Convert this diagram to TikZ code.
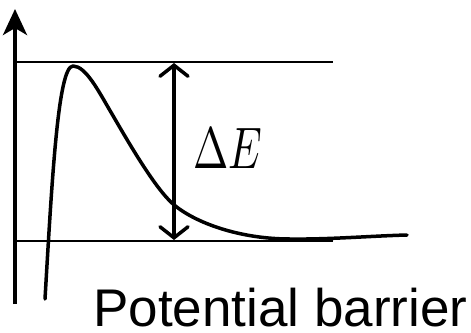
\documentclass[tikz,border=0pt]{standalone}
\usepackage{fontspec}
\newfontfamily\arialfont{Liberation Sans}
\usetikzlibrary{arrows.meta}
\begin{document}
\begin{tikzpicture}[x=1pt,y=-1pt,
  level/.style={line width=2pt},
  axisline/.style={line width=4pt,-{Stealth[length=26pt,width=24pt,inset=7pt]}},
  gap/.style={line width=3.5pt,{Straight Barb[length=11pt,width=28pt,line cap=round]}-{Straight Barb[length=11pt,width=28pt,line cap=round]}},
  curve/.style={line width=3.5pt,line cap=round,line join=round}]
\useasboundingbox (0,0) rectangle (471,332);
\coordinate (axb) at (15,304);
\coordinate (axt) at (15,9);
\coordinate (tl) at (15,62);
\coordinate (tr) at (333,62);
\coordinate (bl) at (15,241);
\coordinate (br) at (333,241);
\coordinate (gt) at (174,63);
\coordinate (gb) at (174,240);
\draw[level] (tl) -- (tr);
\draw[level] (bl) -- (br);
\draw[axisline] (axb) -- (axt);
\draw[curve] (45,299) .. controls (52,180) and (58,66) .. (73,66)
  .. controls (86,66) and (99,92) .. (112,114)
  .. controls (130,145) and (155,188) .. (173,204)
  .. controls (195,223) and (240,239) .. (290,239)
  .. controls (330,239.5) and (370,236) .. (407,235);
\draw[gap] (gb) -- (gt);
\node[anchor=base west,inner sep=0pt] (de) at (193,168) {\resizebox{69pt}{40pt}{$\Delta E$}};
\node[anchor=base west,inner sep=0pt] (lbl) at (93,326) {\arialfont\fontsize{53pt}{60pt}\selectfont Potential barrier};
\end{tikzpicture}
\end{document}
